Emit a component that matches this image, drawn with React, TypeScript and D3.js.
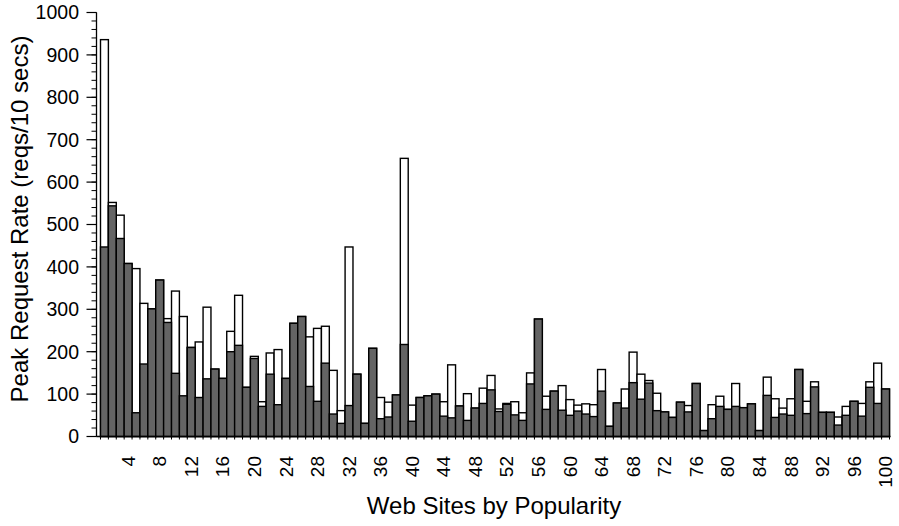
import React from "react";
import * as d3 from "d3";

const sites: number[] = d3.range(1, 101);

const peakWhite: number[] = [
  936, 552, 522, 408, 396, 314, 301, 369, 278, 343,
  283, 210, 223, 305, 159, 137, 248, 333, 116, 189,
  82, 197, 205, 137, 267, 283, 235, 255, 260, 156,
  61, 447, 147, 31, 208, 92, 81, 98, 656, 74,
  92, 96, 100, 82, 169, 72, 101, 67, 114, 144,
  65, 78, 82, 56, 150, 277, 95, 107, 120, 87,
  74, 77, 75, 158, 24, 79, 112, 199, 147, 132,
  102, 58, 45, 81, 73, 125, 14, 75, 95, 64,
  125, 68, 77, 14, 140, 89, 67, 89, 158, 83,
  129, 57, 57, 46, 71, 83, 78, 129, 173, 112,
];

const peakDark: number[] = [
  447, 544, 467, 408, 56, 171, 301, 369, 269, 149,
  96, 210, 92, 136, 159, 137, 200, 215, 116, 184,
  71, 147, 75, 137, 267, 283, 118, 83, 173, 53,
  31, 73, 147, 31, 208, 42, 46, 98, 217, 36,
  92, 96, 100, 48, 44, 72, 38, 67, 78, 110,
  59, 76, 51, 38, 124, 277, 64, 107, 62, 50,
  60, 53, 47, 107, 24, 79, 67, 127, 88, 126,
  61, 58, 45, 81, 58, 125, 14, 42, 71, 64,
  71, 68, 77, 14, 97, 45, 53, 50, 158, 54,
  117, 57, 57, 27, 50, 83, 48, 116, 78, 112,
];

const yMajorTicks: number[] = d3.range(0, 1001, 100);
const yMinorTicks: number[] = d3.range(0, 1001, 20);
const xTickLabels: number[] = d3.range(4, 101, 4);

const W = 899;
const H = 526;
const FONT = "'Liberation Sans', Arial, Helvetica, sans-serif";

export default function App() {
  const axisX = 96.5;
  const x = d3.scaleBand<number>().domain(sites).range([100.5, 889.5]).padding(0);
  const y = d3.scaleLinear().domain([0, 1000]).range([436.5, 12.5]);
  const bw = x.bandwidth();

  return (
    <svg
      width={W}
      height={H}
      style={{ position: "absolute", left: 0, top: 0, background: "#fff" }}
      fontFamily={FONT}
    >
      {/* white bars */}
      {sites.map((s, i) => (
        <rect
          key={"w" + s}
          x={x(s)!}
          y={y(peakWhite[i])}
          width={bw}
          height={y(0) - y(peakWhite[i])}
          fill="#fff"
          stroke="#000"
          strokeWidth={1.4}
        />
      ))}
      {/* dark bars */}
      {sites.map((s, i) => (
        <rect
          key={"d" + s}
          x={x(s)!}
          y={y(peakDark[i])}
          width={bw}
          height={y(0) - y(peakDark[i])}
          fill="#646464"
          stroke="#000"
          strokeWidth={1.4}
        />
      ))}

      {/* y axis */}
      <line x1={axisX} x2={axisX} y1={y(1000)} y2={y(0)} stroke="#000" strokeWidth={1.3} />
      {yMinorTicks.map((t) => (
        <line key={"mi" + t} x1={axisX - 5} x2={axisX} y1={y(t)} y2={y(t)} stroke="#000" strokeWidth={1} />
      ))}
      {yMajorTicks.map((t) => (
        <g key={"ma" + t}>
          <line x1={axisX - 10} x2={axisX} y1={y(t)} y2={y(t)} stroke="#000" strokeWidth={1.2} />
          <text x={79} y={y(t)} dy="0.35em" textAnchor="end" fontSize={19.5} fill="#000">
            {t}
          </text>
        </g>
      ))}

      {/* x axis */}
      <line x1={axisX} x2={890.5} y1={y(0)} y2={y(0)} stroke="#000" strokeWidth={1.3} />
      {sites.map((s) => (
        <line key={"xt" + s} x1={x(s)!} x2={x(s)!} y1={y(0)} y2={y(0) + 3} stroke="#000" strokeWidth={1} />
      ))}
      <line x1={889.5} x2={889.5} y1={y(0)} y2={y(0) + 3} stroke="#000" strokeWidth={1} />
      {xTickLabels.map((t) => (
        <text
          key={"xl" + t}
          transform={`translate(${x(t)! + bw / 2},${456}) rotate(-90)`}
          dy="0.35em"
          textAnchor="end"
          fontSize={19}
          fill="#000"
        >
          {t}
        </text>
      ))}

      {/* titles */}
      <text x={494} y={514} textAnchor="middle" fontSize={24} fill="#000">
        Web Sites by Popularity
      </text>
      <text
        transform={`translate(20,219) rotate(-90)`}
        dy="0.35em"
        textAnchor="middle"
        fontSize={24}
        fill="#000"
      >
        Peak Request Rate (reqs/10 secs)
      </text>
    </svg>
  );
}
